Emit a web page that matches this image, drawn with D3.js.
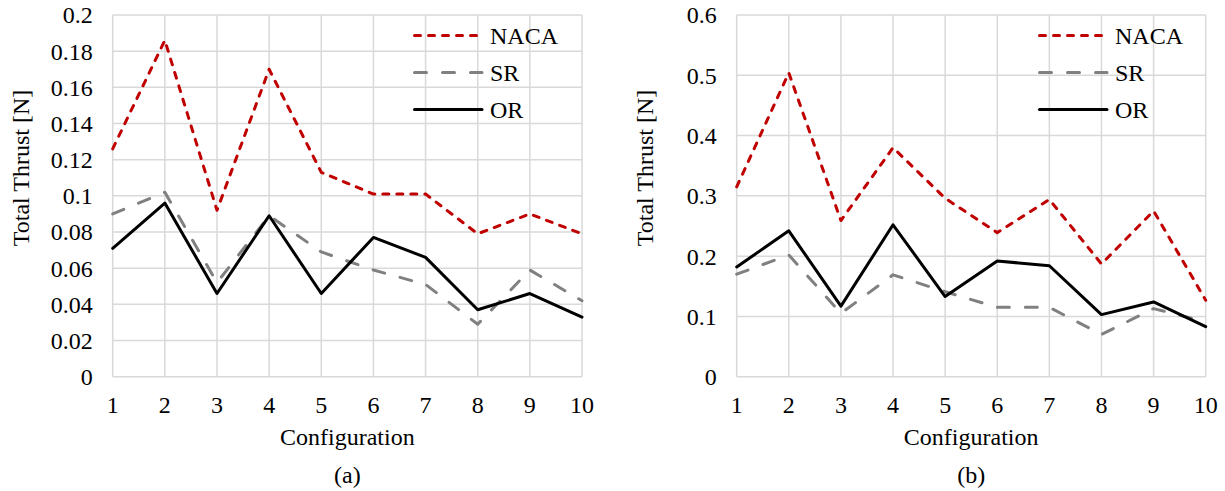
<!DOCTYPE html>
<html>
<head>
<meta charset="utf-8">
<script src="https://cdn.jsdelivr.net/npm/d3@7"></script>
<style>
  body { margin: 0; background: #fff; }
</style>
</head>
<body>
<svg id="chart" width="1225" height="491" font-family="'Liberation Serif', 'Times New Roman', serif"></svg>
<script>
const configs = [1, 2, 3, 4, 5, 6, 7, 8, 9, 10];
const seriesNames = ["NACA", "SR", "OR"];

// panel (a)
const nacaA = [0.126, 0.186, 0.092, 0.170, 0.113, 0.101, 0.101, 0.079, 0.090, 0.079];
const srA   = [0.090, 0.102, 0.052, 0.089, 0.069, 0.059, 0.051, 0.029, 0.059, 0.042];
const orA   = [0.071, 0.096, 0.046, 0.089, 0.046, 0.077, 0.066, 0.037, 0.046, 0.033];
const yTicksA = [0, 0.02, 0.04, 0.06, 0.08, 0.1, 0.12, 0.14, 0.16, 0.18, 0.2];

// panel (b)
const nacaB = [0.315, 0.504, 0.259, 0.380, 0.296, 0.239, 0.294, 0.187, 0.275, 0.127];
const srB   = [0.170, 0.202, 0.105, 0.169, 0.141, 0.115, 0.115, 0.070, 0.113, 0.091];
const orB   = [0.182, 0.242, 0.117, 0.252, 0.133, 0.192, 0.184, 0.103, 0.124, 0.083];
const yTicksB = [0, 0.1, 0.2, 0.3, 0.4, 0.5, 0.6];

const styles = {
    NACA: {color: "#c00000", dash: "6,8", cap: "round"},
    SR:   {color: "#808080", dash: "12,16", cap: "round"},
    OR:   {color: "#000000", dash: null, cap: "round"}
};

const svg = d3.select("#chart");
const fontSize = 24;
const serif = "Liberation Serif";

let drawPanel = function(left, right, yMax, yTicks, series, caption, legendX) {
    const top = 15, bottom = 376.7;
    const x = d3.scaleLinear().domain([1, 10]).range([left, right]);
    const y = d3.scaleLinear().domain([0, yMax]).range([bottom, top]);

    const g = svg.append("g")
        .attr("font-family", serif)
        .attr("font-size", fontSize);

    // grid
    g.selectAll(".hgrid")
        .data(yTicks)
        .join("line")
        .attr("x1", left).attr("x2", right)
        .attr("y1", d => y(d)).attr("y2", d => y(d))
        .attr("stroke", "#d9d9d9")
        .attr("stroke-width", 1.5);
    g.selectAll(".vgrid")
        .data(configs)
        .join("line")
        .attr("x1", d => x(d)).attr("x2", d => x(d))
        .attr("y1", top).attr("y2", bottom)
        .attr("stroke", "#d9d9d9")
        .attr("stroke-width", 1.5);

    // tick labels
    g.selectAll(".ylab")
        .data(yTicks)
        .join("text")
        .attr("x", left - 20)
        .attr("y", d => y(d))
        .attr("dy", "0.35em")
        .attr("text-anchor", "end")
        .text(d => d3.format("~g")(d));
    g.selectAll(".xlab")
        .data(configs)
        .join("text")
        .attr("x", d => x(d))
        .attr("y", 405)
        .attr("dy", "0.35em")
        .attr("text-anchor", "middle")
        .text(d => d);

    // titles
    g.append("text")
        .attr("transform", `translate(${left - 92}, 168) rotate(-90)`)
        .attr("dy", "0.35em")
        .attr("text-anchor", "middle")
        .text("Total Thrust [N]");
    g.append("text")
        .attr("x", (left + right) / 2)
        .attr("y", 437)
        .attr("dy", "0.35em")
        .attr("text-anchor", "middle")
        .text("Configuration");
    g.append("text")
        .attr("x", (left + right) / 2)
        .attr("y", 475)
        .attr("dy", "0.35em")
        .attr("text-anchor", "middle")
        .text(caption);

    // lines
    const line = d3.line().x((d, i) => x(configs[i])).y(d => y(d));
    seriesNames.forEach(function(name, k) {
        g.append("path")
            .datum(series[k])
            .attr("d", line)
            .attr("fill", "none")
            .attr("stroke", styles[name].color)
            .attr("stroke-width", 3)
            .attr("stroke-dasharray", styles[name].dash)
            .attr("stroke-linecap", styles[name].cap)
            .attr("stroke-linejoin", "round");
    });

    // legend
    seriesNames.forEach(function(name, k) {
        const ly = 35.5 + k * 37;
        g.append("line")
            .attr("x1", legendX + 1.5).attr("x2", legendX + 69)
            .attr("y1", ly).attr("y2", ly)
            .attr("stroke", styles[name].color)
            .attr("stroke-width", 3)
            .attr("stroke-dasharray", styles[name].dash)
            .attr("stroke-linecap", styles[name].cap);
        g.append("text")
            .attr("x", legendX + 77)
            .attr("y", ly)
            .attr("dy", "0.35em")
            .text(name);
    });
};

drawPanel(112.7, 582, 0.2, yTicksA, [nacaA, srA, orA], "(a)", 413);
drawPanel(736.7, 1205.7, 0.6, yTicksB, [nacaB, srB, orB], "(b)", 1038);
</script>
</body>
</html>
